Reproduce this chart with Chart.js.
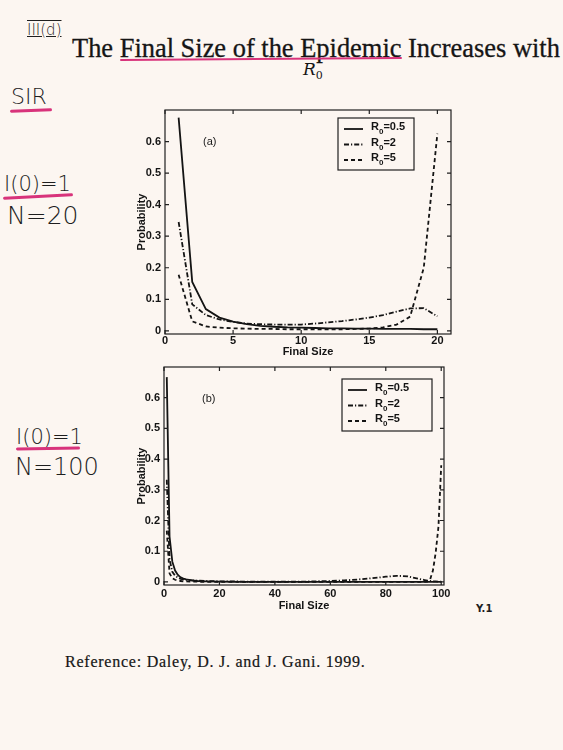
<!DOCTYPE html>
<html>
<head>
<meta charset="utf-8">
<script src="https://cdn.jsdelivr.net/npm/chart.js@4.4.0/dist/chart.umd.min.js"></script>
<style>
  html, body { margin: 0; padding: 0; }
  body { width: 563px; height: 750px; background: #fcf6f1; position: relative; overflow: hidden; }
  .abs { position: absolute; white-space: nowrap; line-height: 1; }
  .hand { font-family: "DejaVu Sans", sans-serif; font-weight: 200; color: #1e1e1e; }
  .pen { position: absolute; background: #d8337b; border-radius: 2px; }
  .tag { font-family: "Liberation Sans", Arial, sans-serif; font-size: 11px; color: #1a1a1a; }
  canvas { position: absolute; }
  #title { left: 72px; top: 35px; font-family: "Liberation Serif", serif; font-size: 23px; color: #151515; -webkit-text-stroke: 0.3px #151515; }
  #r0 { left: 303px; top: 61px; font-family: "DejaVu Serif", serif; font-style: italic; font-size: 17px; color: #151515; }
  #r0 sub { font-style: normal; font-size: 11px; }
  #ref { left: 65px; top: 654px; font-family: "Liberation Serif", serif; font-size: 16px; color: #151515; -webkit-text-stroke: 0.2px #151515; }
</style>
</head>
<body>
<div id="title" class="abs">The Final Size of the Epidemic Increases with</div>
<div id="r0" class="abs">R<sub>0</sub></div>
<div class="pen" style="left:120px; top:58px; width:282px; height:2px; transform:rotate(-0.4deg);"></div>

<div class="abs hand" style="left:27px; top:23px; font-size:15px; font-weight:300; text-decoration:overline underline;">III(d)</div>
<div class="abs hand" style="left:11px; top:86px; font-size:22px;">SIR</div>
<div class="pen" style="left:10px; top:109px; width:42px; height:3px; transform:rotate(-2deg);"></div>

<div class="abs hand" style="left:4px; top:174px; font-size:21px;">I(0)=1</div>
<div class="pen" style="left:3px; top:195px; width:70px; height:3px; transform:rotate(-3deg);"></div>
<div class="abs hand" style="left:7px; top:203px; font-size:25px;">N=20</div>

<div class="abs hand" style="left:16px; top:427px; font-size:21px;">I(0)=1</div>
<div class="pen" style="left:16px; top:447px; width:64px; height:3px; transform:rotate(-1deg);"></div>
<div class="abs hand" style="left:15px; top:455px; font-size:24px;">N=100</div>

<div class="abs hand" style="left:476px; top:604px; font-size:10px; font-weight:bold;">Y.1</div>

<canvas id="chartA" width="335" height="265" style="left:130px; top:95px;"></canvas>
<canvas id="chartB" width="328" height="261" style="left:130px; top:352px;"></canvas>
<div class="abs tag" style="left:203px; top:136px;">(a)</div>
<div class="abs tag" style="left:202px; top:393px;">(b)</div>

<div id="ref" class="abs">Reference: Daley, D. J. and J. Gani. 1999.</div>

<script>
// --- 데이터: N=20 (a) ---
const sizesA = [1, 2, 3, 4, 5, 6, 7, 8, 9, 10, 11, 12, 13, 14, 15, 16, 17, 18, 19, 20];
const probA_r05 = [0.676, 0.155, 0.069, 0.042, 0.029, 0.021, 0.016, 0.013, 0.011, 0.010, 0.009, 0.008, 0.008, 0.007, 0.007, 0.006, 0.006, 0.006, 0.005, 0.005];
const probA_r2 = [0.345, 0.084, 0.050, 0.036, 0.028, 0.023, 0.021, 0.020, 0.020, 0.020, 0.023, 0.027, 0.031, 0.036, 0.042, 0.050, 0.061, 0.071, 0.072, 0.046];
const probA_r5 = [0.178, 0.030, 0.014, 0.010, 0.008, 0.007, 0.006, 0.006, 0.005, 0.005, 0.005, 0.005, 0.005, 0.006, 0.007, 0.011, 0.020, 0.045, 0.200, 0.625];

// --- 데이터: N=100 (b) ---
const sizesB = [1, 2, 3, 4, 5, 6, 7, 8, 10, 12, 15, 20, 30, 40, 50, 55, 60, 65, 70, 75, 80, 84, 88, 92, 94, 95, 96, 97, 98, 99, 100];
const probB_r05 = [0.667, 0.148, 0.066, 0.037, 0.023, 0.015, 0.011, 0.008, 0.005, 0.003, 0.002, 0.001, 0, 0, 0, 0, 0, 0, 0, 0, 0, 0, 0, 0, 0, 0, 0, 0, 0, 0, 0];
const probB_r2 = [0.333, 0.074, 0.033, 0.020, 0.014, 0.010, 0.008, 0.007, 0.005, 0.004, 0.003, 0.002, 0.001, 0.001, 0.001, 0.002, 0.003, 0.005, 0.008, 0.012, 0.017, 0.020, 0.018, 0.010, 0.006, 0.004, 0.003, 0.002, 0.002, 0.001, 0.001];
const probB_r5 = [0.167, 0.028, 0.012, 0.007, 0.004, 0.003, 0.002, 0.002, 0.001, 0.001, 0, 0, 0, 0, 0, 0, 0, 0, 0, 0, 0, 0, 0, 0, 0, 0.001, 0.008, 0.037, 0.095, 0.180, 0.380];

const r0Values = ['0.5', '2', '5'];
const xTicksA = [0, 5, 10, 15, 20];
const xTicksB = [0, 20, 40, 60, 80, 100];
const yTicks = [0, 0.1, 0.2, 0.3, 0.4, 0.5, 0.6];
const yTickLabels = ['0', '0.1', '0.2', '0.3', '0.4', '0.5', '0.6'];

const ink = '#141414';
const paper = '#fcf6f1';
const dashStyles = [[], [5, 2, 1.2, 2], [4, 3]];
const tickFont = { family: '"Liberation Sans", Arial, sans-serif', size: 11, weight: 'bold' };

// 프레임 + 안쪽 눈금 (matlab 스타일)
const frameTicks = {
    id: 'frameTicks',
    afterDatasetsDraw(chart) {
        const { ctx, chartArea: a, scales: { x, y } } = chart;
        ctx.save();
        ctx.strokeStyle = '#202020';
        ctx.lineWidth = 1.2;
        ctx.strokeRect(a.left, a.top, a.width, a.height);
        const len = 4;
        ctx.beginPath();
        x.ticks.forEach(t => {
            const px = x.getPixelForValue(t.value);
            ctx.moveTo(px, a.bottom); ctx.lineTo(px, a.bottom - len);
            ctx.moveTo(px, a.top); ctx.lineTo(px, a.top + len);
        });
        y.ticks.forEach(t => {
            const py = y.getPixelForValue(t.value);
            ctx.moveTo(a.left, py); ctx.lineTo(a.left + len, py);
            ctx.moveTo(a.right, py); ctx.lineTo(a.right - len, py);
        });
        ctx.stroke();
        ctx.restore();
    }
};

// 범례 박스 (R0 아래첨자)
const boxLegend = {
    id: 'boxLegend',
    afterDraw(chart, args, opts) {
        const { ctx, chartArea: a } = chart;
        const bx = a.left + opts.left, by = a.top + opts.top;
        ctx.save();
        ctx.fillStyle = paper;
        ctx.fillRect(bx, by, opts.width, opts.height);
        ctx.strokeStyle = '#202020';
        ctx.lineWidth = 1.2;
        ctx.strokeRect(bx, by, opts.width, opts.height);
        chart.data.datasets.forEach((ds, i) => {
            const ry = by + opts.firstRow + i * opts.rowGap;
            ctx.beginPath();
            ctx.setLineDash(ds.borderDash);
            ctx.lineWidth = ds.borderWidth;
            ctx.strokeStyle = ink;
            ctx.moveTo(bx + 6, ry);
            ctx.lineTo(bx + 25, ry);
            ctx.stroke();
            ctx.setLineDash([]);
            ctx.fillStyle = ink;
            ctx.textBaseline = 'alphabetic';
            let tx = bx + 33;
            ctx.font = 'bold 11px "Liberation Sans", Arial, sans-serif';
            ctx.fillText('R', tx, ry + 1);
            tx += ctx.measureText('R').width;
            ctx.font = 'bold 8px "Liberation Sans", Arial, sans-serif';
            ctx.fillText('0', tx, ry + 5);
            tx += ctx.measureText('0').width;
            ctx.font = 'bold 11px "Liberation Sans", Arial, sans-serif';
            ctx.fillText('=' + ds.label, tx, ry + 1);
        });
        ctx.restore();
    }
};

function buildDatasets(sizes, series) {
    return series.map((vals, i) => ({
        label: r0Values[i],
        data: sizes.map((s, j) => ({ x: s, y: vals[j] })),
        borderColor: ink,
        borderWidth: 1.8,
        borderDash: dashStyles[i],
        pointRadius: 0,
        tension: 0,
        fill: false
    }));
}

function makeChart(id, cfg) {
    const ctx = document.getElementById(id).getContext('2d');
    return new Chart(ctx, {
        type: 'line',
        data: { datasets: buildDatasets(cfg.sizes, cfg.series) },
        options: {
            responsive: false,
            animation: false,
            layout: { padding: { top: 15, right: 14, left: 0, bottom: 0 } },
            plugins: {
                legend: { display: false },
                tooltip: { enabled: false },
                boxLegend: cfg.legend
            },
            scales: {
                x: {
                    type: 'linear',
                    min: 0, max: cfg.xMax,
                    grid: { display: false, drawTicks: false },
                    border: { display: false },
                    afterBuildTicks: s => { s.ticks = cfg.xTicks.map(v => ({ value: v })); },
                    afterFit: s => { s.height = cfg.xHeight; },
                    ticks: { autoSkip: false, maxRotation: 0, padding: cfg.xPad, color: ink, font: tickFont,
                             callback: v => String(v) },
                    title: { display: true, text: 'Final Size', color: ink, font: tickFont,
                             padding: { top: 0, bottom: cfg.titlePad } }
                },
                y: {
                    min: -0.01, max: 0.7,
                    grid: { display: false, drawTicks: false },
                    border: { display: false },
                    afterBuildTicks: s => { s.ticks = yTicks.map(v => ({ value: v })); },
                    afterFit: s => { s.width = cfg.yWidth; },
                    ticks: { autoSkip: false, padding: 4, color: ink, font: tickFont,
                             callback: (v, i) => yTickLabels[i] },
                    title: { display: true, text: 'Probability', color: ink, font: tickFont,
                             padding: { top: 5, bottom: 0 } }
                }
            }
        },
        plugins: [frameTicks, boxLegend]
    });
}

makeChart('chartA', {
    sizes: sizesA, series: [probA_r05, probA_r2, probA_r5],
    xMax: 21, xTicks: xTicksA, xPad: 0, xHeight: 26, titlePad: 1, yWidth: 35,
    legend: { left: 173, top: 8, width: 76, height: 52, firstRow: 11, rowGap: 15.5 }
});

makeChart('chartB', {
    sizes: sizesB, series: [probB_r05, probB_r2, probB_r5],
    xMax: 101, xTicks: xTicksB, xPad: 2, xHeight: 28, titlePad: 0, yWidth: 34,
    legend: { left: 178, top: 12, width: 90, height: 52, firstRow: 11, rowGap: 15.5 }
});

// 제목/참고문헌 폭 맞추기
function fitWidth(id, target, useSpacing) {
    const el = document.getElementById(id);
    const w = el.getBoundingClientRect().width;
    if (useSpacing) {
        const n = el.textContent.length - 1;
        el.style.letterSpacing = ((target - w) / n).toFixed(2) + 'px';
    } else {
        const fs = parseFloat(getComputedStyle(el).fontSize);
        el.style.fontSize = (fs * target / w).toFixed(2) + 'px';
    }
}
fitWidth('title', 488, false);
fitWidth('ref', 300, true);
</script>
</body>
</html>
